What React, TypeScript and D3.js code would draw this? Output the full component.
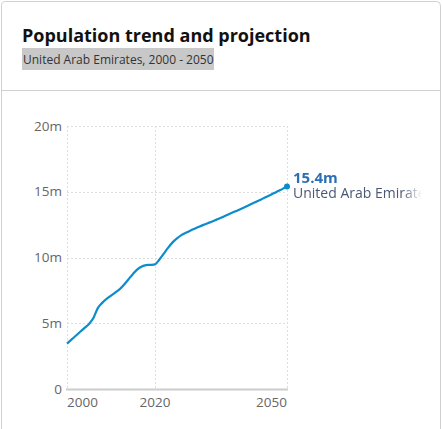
import React from "react";
import * as d3 from "d3";

const years: number[] = [
  2000, 2001, 2002, 2003, 2004, 2005, 2006, 2007, 2008, 2009,
  2010, 2011, 2012, 2013, 2014, 2015, 2016, 2017, 2018, 2019,
  2020, 2021, 2022, 2023, 2024, 2025, 2026, 2027, 2028, 2029,
  2030, 2031, 2032, 2033, 2034, 2035, 2036, 2037, 2038, 2039,
  2040, 2041, 2042, 2043, 2044, 2045, 2046, 2047, 2048, 2049, 2050,
];
const population: number[] = [
  3.45, 3.75, 4.05, 4.35, 4.65, 4.95, 5.4, 6.15, 6.55, 6.85,
  7.1, 7.35, 7.6, 7.95, 8.35, 8.75, 9.1, 9.32, 9.42, 9.44,
  9.48, 9.85, 10.3, 10.75, 11.15, 11.45, 11.7, 11.88, 12.04, 12.19,
  12.34, 12.48, 12.61, 12.74, 12.88, 13.02, 13.17, 13.32, 13.47, 13.62,
  13.77, 13.92, 14.08, 14.24, 14.4, 14.56, 14.72, 14.88, 15.05, 15.22, 15.4,
];
const yTicks: number[] = [0, 5, 10, 15, 20];
const xTicks: number[] = [2000, 2020, 2050];
const seriesName = "United Arab Emirates";
const title = "Population trend and projection";
const subtitle = "United Arab Emirates, 2000 - 2050";

const W = 442;
const H = 429;
const FONT = "'Open Sans', 'Noto Sans', sans-serif";

export default function App() {
  const x = d3.scaleLinear().domain([2000, 2050]).range([67, 287]);
  const y = d3.scaleLinear().domain([0, 20]).range([389, 126]);
  const data = years.map((yr, i) => ({ yr, v: population[i] }));
  const line = d3
    .line<{ yr: number; v: number }>()
    .x((d) => x(d.yr))
    .y((d) => y(d.v))
    .curve(d3.curveMonotoneX);
  const last = data[data.length - 1];
  const fmtY = (v: number) => (v === 0 ? "0" : `${v}m`);

  return (
    <svg
      width={W}
      height={H}
      style={{ position: "absolute", left: 0, top: 0, fontFamily: FONT }}
    >
      <defs>
        <linearGradient id="fade" x1="0" x2="1" y1="0" y2="0">
          <stop offset="0" stopColor="#fff" stopOpacity="1" />
          <stop offset="0.86" stopColor="#fff" stopOpacity="1" />
          <stop offset="1" stopColor="#fff" stopOpacity="0" />
        </linearGradient>
        <mask id="labelMask">
          <rect x={280} y={160} width={142} height={50} fill="url(#fade)" />
        </mask>
      </defs>
      <rect x={0} y={0} width={W} height={H} fill="#fff" />
      <path
        d={`M1.5,${H + 5} V5.5 A4,4 0 0 1 5.5,1.5 H436.5 A4,4 0 0 1 440.5,5.5 V${H + 5}`}
        fill="none"
        stroke="#d0d0d0"
        strokeWidth={1}
      />
      <text x={22} y={42} fontSize={18} fontWeight={700} fill="#111">
        {title}
      </text>
      <rect x={22} y={48} width={192} height={22} fill="#c8c8c8" />
      <text x={23} y={64} fontSize={12} fill="#333">
        {subtitle}
      </text>
      <line x1={1} x2={441} y1={90.5} y2={90.5} stroke="#d0d0d0" />

      {yTicks.map((t) => (
        <g key={t}>
          {t > 0 && (
            <line
              x1={67}
              x2={287}
              y1={Math.round(y(t)) + 0.5}
              y2={Math.round(y(t)) + 0.5}
              stroke="#ddd"
              strokeDasharray="2,2"
            />
          )}
          <text
            x={62}
            y={y(t)}
            dy="0.35em"
            textAnchor="end"
            fontSize={13.5}
            fill="#666"
          >
            {fmtY(t)}
          </text>
        </g>
      ))}
      {xTicks.map((t, i) => (
        <g key={t}>
          <line
            x1={Math.round(x(t)) + 0.5}
            x2={Math.round(x(t)) + 0.5}
            y1={y(20)}
            y2={y(0)}
            stroke="#ddd"
            strokeDasharray="2,2"
          />
          <text
            x={x(t)}
            y={407}
            textAnchor={i === 0 ? "start" : i === xTicks.length - 1 ? "end" : "middle"}
            fontSize={13.5}
            fill="#666"
          >
            {t}
          </text>
        </g>
      ))}
      <line x1={66} x2={288} y1={y(0) + 0.5} y2={y(0) + 0.5} stroke="#ccc" strokeWidth={2} />

      <path d={line(data) ?? ""} fill="none" stroke="#0c8ccd" strokeWidth={2.2} />
      <circle cx={x(last.yr)} cy={y(last.v)} r={3} fill="#0c8ccd" />
      <g mask="url(#labelMask)">
        <text x={293} y={183} fontSize={15} fontWeight={700} fill="#2c6eb5">
          {`${last.v}m`}
        </text>
        <text x={293} y={198} fontSize={14} fill="#4b5873">
          {seriesName}
        </text>
      </g>
    </svg>
  );
}
